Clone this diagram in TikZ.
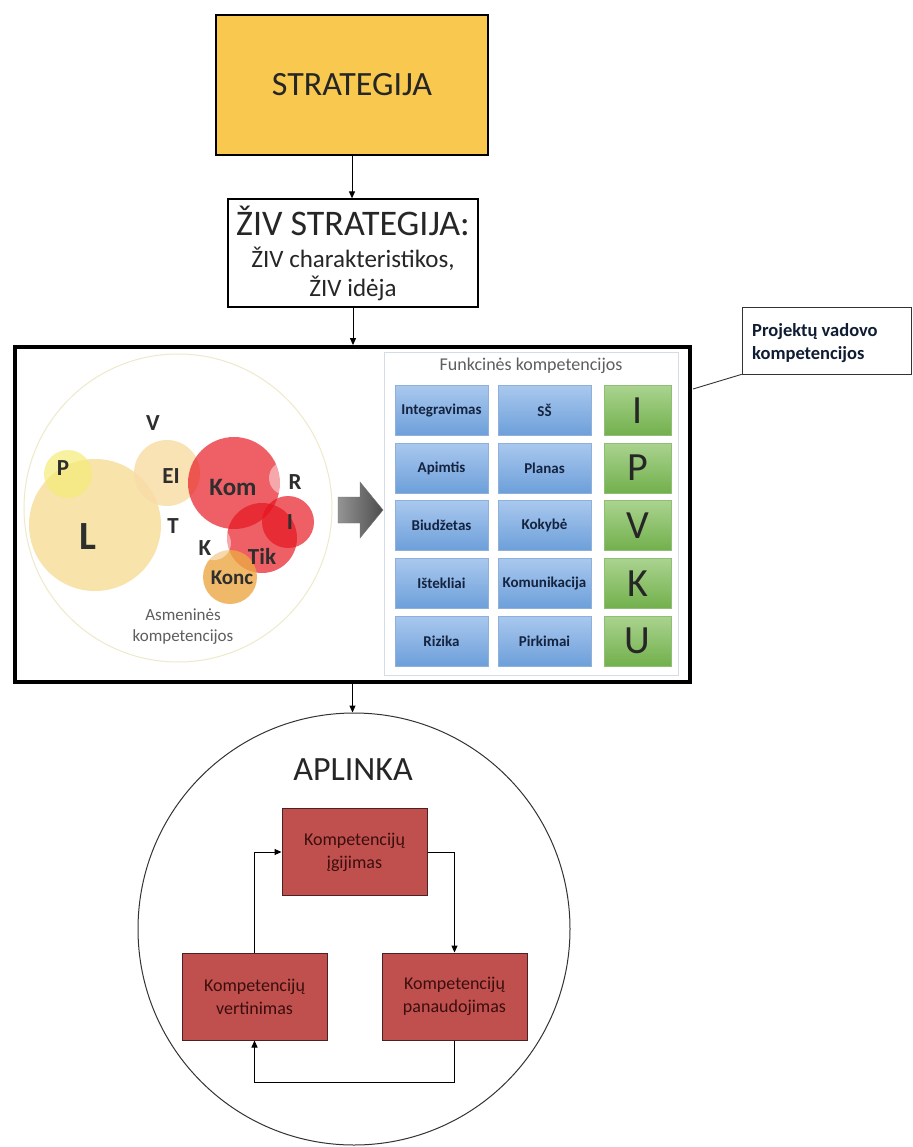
\documentclass[tikz,border=0pt]{standalone}
\usepackage{fontspec}
\setmainfont{Carlito}
\usetikzlibrary{arrows.meta}

\newcommand{\fsz}[2]{\fontsize{#1}{#2}\selectfont}

\definecolor{stratfill}{HTML}{F8C94E}
\definecolor{cellblueT}{HTML}{A9C8EE}
\definecolor{cellblueB}{HTML}{6D9FDA}
\definecolor{cellblueD}{HTML}{8FB0DA}
\definecolor{cellgreenT}{HTML}{AAD38F}
\definecolor{cellgreenB}{HTML}{72B04C}
\definecolor{cellgreenD}{HTML}{8FBF75}
\definecolor{navytext}{HTML}{14233F}
\definecolor{cyclefill}{HTML}{C0504D}
\definecolor{cycledraw}{HTML}{4A2222}
\definecolor{cycletext}{HTML}{3A0E0E}
\definecolor{panelline}{HTML}{D5DCE6}
\definecolor{ringline}{HTML}{EEE9C9}
\definecolor{bubL}{HTML}{F8E0A2}
\definecolor{bubP}{HTML}{F5EC78}
\definecolor{bubEI}{HTML}{F9DDA8}
\definecolor{bubRed}{HTML}{E6141E}
\definecolor{bubKonc}{HTML}{EDA845}
\definecolor{softgray}{HTML}{5E5E5E}

\tikzset{
  arr/.style={-{Triangle[length=7pt,width=6pt]}, line width=1pt, black},
  plainbox/.style={draw=black, line width=1.3pt, rectangle, inner sep=0pt},
  bluecell/.style={rectangle, inner sep=0pt, minimum width=93, minimum height=50,
    top color=cellblueT, bottom color=cellblueB, draw=cellblueD, line width=0.4pt,
    font=\fsz{15}{18}\bfseries, text=navytext},
  greencell/.style={rectangle, inner sep=0pt, minimum width=67, minimum height=50,
    top color=cellgreenT, bottom color=cellgreenB, draw=cellgreenD, line width=0.4pt,
    font=\fsz{40}{44}, text=black!85},
  cyclebox/.style={rectangle, inner sep=0pt, minimum width=145, minimum height=87,
    fill=cyclefill, draw=cycledraw, line width=1pt, align=center,
    font=\fsz{18}{23}, text=cycletext},
  bublabel/.style={inner sep=0pt, font=\fsz{23}{26}\bfseries, text=black!82},
}

\begin{document}
\begin{tikzpicture}[x=1pt, y=-1pt]
\useasboundingbox (0,0) rectangle (912,1147);
\fill[white] (0,0) rectangle (912,1147);

% strategy boxes at the top
\node[plainbox, fill=stratfill, minimum width=272, minimum height=140,
      font=\fsz{34}{40}, text=black!85] (strat) at (352,85) {STRATEGIJA};
\node[plainbox, minimum width=250, minimum height=108] (ziv) at (353,253) {};
\node[inner sep=0pt, font=\fsz{36}{40}, text=black!85] (zivtitle) at (353,221) {ŽIV STRATEGIJA:};
\node[inner sep=0pt, font=\fsz{25}{28}, text=black!85] (zivchar) at (353,259) {ŽIV charakteristikos,};
\node[inner sep=0pt, font=\fsz{25}{28}, text=black!85] (zividea) at (353,288) {ŽIV idėja};

% competency frame
\node[draw=black, line width=3.8pt, rectangle, inner sep=0pt,
      minimum width=675, minimum height=335] (big) at (352.5,514.5) {};

\draw[arr] (strat.south) -- (strat.south |- ziv.north);
\draw[arr] (ziv.south) -- (ziv.south |- big.north);

% personal competencies: bubble cloud
\draw[ringline, line width=1pt] (178,508) circle[radius=154];
\fill[bubL, fill opacity=0.9] (95,525) circle[radius=66];
\fill[bubP, fill opacity=0.7] (68,474) circle[radius=24];
\fill[bubEI, fill opacity=0.85] (167,473) circle[radius=33];
\begin{scope}[fill opacity=0.68]
  \fill[bubRed] (234,483) circle[radius=46];
  \fill[bubRed] (288,522) circle[radius=26];
  \fill[bubRed] (262,538) circle[radius=35];
\end{scope}
\fill[bubKonc, fill opacity=0.8] (230,577) circle[radius=27];
% pale bubbles that only show where they lie over the red ones
\fill[white, fill opacity=0.45] (286,478) circle[radius=17];
\fill[white, fill opacity=0.45] (214,543) circle[radius=17];

\node[bublabel] (lV) at (153,423) {V};
\node[bublabel] (lP) at (63,468) {P};
\node[bublabel] (lEI) at (171,476) {EI};
\node[bublabel, font=\fsz{25}{28}\bfseries] (lKom) at (233,487) {Kom};
\node[bublabel] (lR) at (295,482) {R};
\node[bublabel, font=\fsz{40}{44}\bfseries] (lL) at (88,537) {L};
\node[bublabel] (lT) at (173,526) {T};
\node[bublabel] (lI) at (290,522) {I};
\node[bublabel] (lK) at (205,548) {K};
\node[bublabel] (lTik) at (262,556) {Tik};
\node[bublabel, font=\fsz{21}{24}\bfseries] (lKonc) at (232,578) {Konc};
\node[inner sep=0pt, align=center, font=\fsz{17}{21}, text=softgray] (asm) at (183,627)
  {Asmeninės\\kompetencijos};

% block arrow towards the functional panel
\shade[left color=black!42, right color=black!70, draw=black!55, line width=0.4pt]
  (338,497) -- (360,497) -- (360,482) -- (383,510) -- (360,538) -- (360,523) -- (338,523) -- cycle;

% functional competencies panel
\node[draw=panelline, fill=white, line width=1pt, rectangle, inner sep=0pt,
      minimum width=294, minimum height=323] (panel) at (531,513.5) {};
\node[inner sep=0pt, font=\fsz{18}{21}, text=softgray] (ftitle) at (531,366) {Funkcinės kompetencijos};

\node[bluecell] (c11) at (441.5,410.5) {Integravimas};
\node[bluecell] (c12) at (544.5,410.5) {SŠ};
\node[greencell] (g1) at (637.5,410.5) {I};
\node[bluecell] (c21) at (441.5,468) {Apimtis};
\node[bluecell] (c22) at (544.5,468) {Planas};
\node[greencell] (g2) at (637.5,468) {P};
\node[bluecell] (c31) at (441.5,525.5) {Biudžetas};
\node[bluecell] (c32) at (544.5,525.5) {Kokybė};
\node[greencell] (g3) at (637.5,525.5) {V};
\node[bluecell] (c41) at (441.5,583.5) {Ištekliai};
\node[bluecell] (c42) at (544.5,583.5) {Komunikacija};
\node[greencell] (g4) at (637.5,583.5) {K};
\node[bluecell] (c51) at (441.5,641) {Rizika};
\node[bluecell] (c52) at (544.5,641) {Pirkimai};
\node[greencell] (g5) at (637.5,641) {U};

% callout for the manager competencies
\node[draw=black!80, line width=0.7pt, rectangle, inner sep=0pt, minimum width=169,
      minimum height=67] (pvk) at (826.5,340.5) {};
\node[inner sep=0pt, anchor=west, align=left, font=\fsz{18.5}{23}\bfseries, text=navytext!80!black]
  (pvktext) at (752,343) {Projektų vadovo\\kompetencijos};
\coordinate (cfoot) at (693,389);
\draw[black!80, line width=0.9pt] (cfoot) -- (pvk.south west);

% environment and the competency cycle
\node[draw=black!80, line width=1pt, circle, inner sep=0pt, minimum size=432] (env) at (354,929) {};
\draw[arr] (big.south) -- (big.south |- env.north);
\node[inner sep=0pt, font=\fsz{34}{40}, text=black!85] (aplinka) at (353,770) {APLINKA};

\node[cyclebox] (acq) at (354.5,852) {Kompetencijų\\įgijimas};
\node[cyclebox] (evalb) at (254.5,996.5) {Kompetencijų\\vertinimas};
\node[cyclebox] (use) at (454.5,996.5) {Kompetencijų\\panaudojimas};

\draw[arr] (acq.east) -| (use.north);
\draw[arr] (use.south) -- ++(0,42) -| (evalb.south);
\draw[arr] (evalb.north) |- (acq.west);
\end{tikzpicture}
\end{document}
